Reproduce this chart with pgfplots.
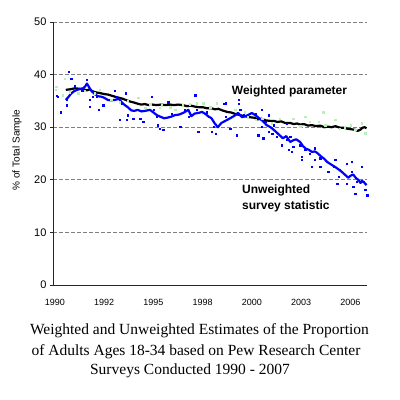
\documentclass[border=0pt]{standalone}
\usepackage{pgfplots}
\pgfplotsset{compat=1.18}
\usepackage{fontspec}
\setmainfont{Liberation Serif}
\newfontfamily\arial{Liberation Sans}
\definecolor{dotgreen}{RGB}{185,240,185}
\definecolor{gridgray}{RGB}{128,128,128}
\definecolor{lineblue}{RGB}{0,0,255}
\begin{document}
\begin{tikzpicture}[x=1pt,y=1pt]
\path (0,0) rectangle (400,400);
\begin{axis}[at={(53pt,115pt)}, anchor=south west, scale only axis,
  width=314pt, height=263pt,
  xmin=-0.04, xmax=6.34, ymin=0, ymax=50,
  axis x line=bottom, axis y line=left,
  axis line style={-, black!85, line width=0.8pt},
  xtick={0,...,6}, xticklabels={1990,1992,1995,1998,2000,2003,2006},
  x tick style={draw=none},
  ytick={0,10,...,50},
  tick align=outside, major tick length=3pt,
  y tick style={black!85, line width=0.8pt},
  ymajorgrids, grid style={gridgray, dash pattern=on 3.5pt off 2.5pt, line width=0.8pt},
  /pgf/number format/assume math mode=true,
  yticklabel style={font=\arial\fontsize{11}{13}\selectfont},
  xticklabel style={font=\arial\fontsize{9}{11}\selectfont, yshift=-8pt},
  clip=false,
]
% weighted individual surveys (light green)
\addplot[only marks, mark=square*, mark size=0.65pt, color=dotgreen, fill=dotgreen, mark options={line width=0.2pt}] coordinates {
(0.02,37.7)(0.01,37.1)(0.16,36.1)(0.20,39.3)(0.30,36.7)(0.47,36.5)(0.60,36.9)(0.81,36.5)
(0.91,37.1)(1.14,35.2)(1.32,34.8)(1.48,35.0)(1.69,35.6)(1.83,33.7)(1.93,34.4)(2.13,33.7)
(2.17,34.2)(2.34,33.8)(2.44,33.3)(2.60,34.2)(2.74,34.4)(2.88,34.6)(3.01,34.6)(3.15,33.8)
(3.29,34.6)(3.46,34.6)(3.66,33.3)(3.86,32.9)(3.92,31.9)(4.07,31.4)(4.21,31.6)(4.40,30.8)
(4.57,31.6)(4.84,31.7)(4.98,30.2)(5.08,32.0)(5.18,31.0)(5.35,31.0)(5.45,32.9)(5.49,30.4)
(5.69,31.4)(5.79,29.8)(5.89,30.0)(6.00,30.4)(6.10,29.5)(6.23,30.8)(6.30,28.9)
};
% unweighted individual surveys (blue)
\addplot[only marks, mark=square*, mark size=0.65pt, color=lineblue, fill=lineblue, mark options={line width=0.2pt}] coordinates {
(0.28,40.6)(0.33,39.3)(0.03,36.0)(0.06,35.8)(0.11,32.9)(0.23,34.2)(0.24,35.2)(0.64,39.0)
(0.71,35.2)(0.76,35.8)(0.71,33.9)(0.84,35.8)(0.89,33.3)(0.98,34.2)(1.21,36.9)(1.25,35.8)
(1.35,34.5)(1.32,31.4)(1.48,32.3)(1.46,31.4)(1.44,36.5)(1.59,31.7)(1.73,31.7)(1.79,31.0)
(1.97,35.8)(2.00,33.3)(2.07,32.0)(2.09,30.4)(2.13,29.8)(2.20,29.5)(2.30,34.8)(2.37,32.6)
(2.54,30.1)(2.64,33.3)(2.71,32.0)(2.85,36.1)(2.88,33.3)(2.91,29.1)(3.08,32.9)(3.12,32.0)
(3.22,31.0)(3.18,29.1)(3.22,30.1)(3.26,28.8)(3.42,34.5)(3.46,32.0)(3.46,34.6)(3.56,29.8)
(3.69,28.5)(3.73,35.2)(3.73,34.5)(3.76,33.3)(3.83,32.3)(4.07,32.6)(4.13,28.5)(4.20,30.1)
(4.20,33.3)(4.23,27.9)(4.27,31.0)(4.34,29.1)(4.34,32.3)(4.41,28.8)(4.44,30.4)(4.51,28.2)
(4.61,26.6)(4.71,30.7)(4.71,27.6)(4.78,28.2)(4.74,25.7)(4.84,26.3)(4.81,25.3)(4.98,26.6)
(5.01,23.8)(5.01,24.4)(5.08,25.7)(5.18,25.0)(5.28,26.0)(5.28,23.8)(5.22,22.5)(5.39,24.1)
(5.39,22.5)(5.55,21.5)(5.69,23.8)(5.66,22.5)(5.79,21.9)(5.76,20.6)(5.73,19.3)(5.93,23.1)
(6.03,23.4)(6.03,21.5)(6.23,22.5)(5.93,19.3)(6.06,18.7)(6.13,19.6)(6.10,17.4)(6.27,19.6)
(6.30,18.1)(6.34,17.1)(0.40,37.8)(0.55,37.0)
};
% weighted parameter (black)
\addplot[no marks, black, line width=2.2pt, line join=round] coordinates {
(0.22,37.1)(0.30,37.2)(0.41,37.4)(0.50,37.3)(0.58,37.2)(0.65,37.0)(0.70,37.2)(0.77,36.8)
(0.84,36.6)(0.91,36.5)(1.00,36.3)(1.08,36.2)(1.15,36.0)(1.22,35.8)(1.30,35.6)(1.38,35.4)
(1.46,35.1)(1.52,34.9)(1.60,34.7)(1.67,34.5)(1.75,34.3)(1.83,34.4)(1.90,34.2)(1.98,34.3)
(2.07,34.2)(2.15,34.3)(2.25,34.2)(2.34,34.3)(2.42,34.2)(2.50,34.3)(2.60,34.2)(2.68,34.0)
(2.76,34.1)(2.85,33.9)(2.93,33.8)(3.00,33.8)(3.09,33.6)(3.18,33.6)(3.25,33.4)(3.32,33.5)
(3.40,33.2)(3.50,32.9)(3.58,32.8)(3.67,32.5)(3.76,32.3)(3.85,32.1)(3.96,31.9)(4.05,31.8)
(4.12,31.5)(4.20,31.6)(4.28,31.3)(4.37,31.2)(4.45,31.2)(4.52,31.0)(4.60,31.1)(4.68,30.8)
(4.78,30.8)(4.85,30.6)(4.92,30.7)(4.98,30.5)(5.06,30.6)(5.14,30.3)(5.22,30.4)(5.30,30.2)
(5.39,30.3)(5.47,30.0)(5.55,30.1)(5.62,30.0)(5.70,30.2)(5.79,29.9)(5.87,29.9)(5.95,29.7)
(6.03,29.6)(6.10,29.5)(6.15,29.3)(6.20,29.5)(6.25,29.9)(6.29,30.0)(6.33,29.8)
};
% unweighted survey statistic (blue)
\addplot[no marks, lineblue, line width=2.2pt, line join=round] coordinates {
(0.22,35.2)(0.27,35.7)(0.32,36.3)(0.38,36.8)(0.45,37.1)(0.52,37.3)(0.57,37.4)(0.61,37.7)
(0.65,38.3)(0.70,37.5)(0.75,36.8)(0.81,36.3)(0.87,35.9)(0.94,35.8)(1.00,35.6)(1.07,35.2)
(1.14,35.1)(1.22,35.2)(1.30,35.4)(1.36,34.7)(1.42,34.2)(1.48,33.8)(1.55,33.2)(1.61,33.1)
(1.68,33.3)(1.76,33.0)(1.83,33.1)(1.93,33.3)(2.00,32.8)(2.07,32.3)(2.14,32.0)(2.22,31.7)
(2.28,31.8)(2.36,32.0)(2.44,32.3)(2.52,32.4)(2.60,32.7)(2.66,33.0)(2.71,33.3)(2.77,32.1)
(2.84,32.6)(2.91,32.7)(2.99,32.9)(3.06,32.5)(3.11,32.1)(3.18,31.7)(3.24,30.8)(3.31,30.0)
(3.38,30.8)(3.42,31.0)(3.50,31.4)(3.56,31.7)(3.65,32.2)(3.72,32.7)(3.80,31.9)(3.87,32.1)
(3.92,32.3)(4.00,32.7)(4.07,32.3)(4.15,31.7)(4.22,31.2)(4.30,30.4)(4.38,30.0)(4.47,29.3)
(4.55,28.6)(4.63,27.9)(4.70,28.3)(4.78,27.2)(4.84,27.5)(4.90,27.7)(4.98,27.2)(5.04,26.4)
(5.10,25.9)(5.16,25.7)(5.22,25.3)(5.28,25.4)(5.33,25.1)(5.40,24.5)(5.47,24.0)(5.53,23.4)
(5.58,23.1)(5.63,22.8)(5.70,22.4)(5.76,22.0)(5.83,21.5)(5.90,20.9)(5.96,20.4)(6.01,20.8)
(6.06,21.0)(6.11,20.4)(6.16,20.0)(6.21,19.4)(6.24,19.8)(6.28,19.5)(6.33,19.0)
};
\end{axis}
% series labels
\node[anchor=base, font=\arial\bfseries\fontsize{12}{14}\selectfont, inner sep=0pt] at (289.5,305) {Weighted parameter};
\node[anchor=base west, font=\arial\bfseries\fontsize{12}{14}\selectfont, inner sep=0pt] at (242,206) {Unweighted};
\node[anchor=base west, font=\arial\bfseries\fontsize{12}{14}\selectfont, inner sep=0pt] at (242,190.7) {survey statistic};
% y axis label
\node[rotate=90, font=\arial\fontsize{10}{12}\selectfont, inner sep=0pt] at (17,250) {\% of Total Sample};
% caption
\node[anchor=base, font=\fontsize{15.5}{18}\selectfont, inner sep=0pt] at (199.5,65) {Weighted and Unweighted Estimates of the Proportion};
\node[anchor=base, font=\fontsize{15.5}{18}\selectfont, inner sep=0pt] at (196,45) {of Adults Ages 18-34 based on Pew Research Center};
\node[anchor=base, font=\fontsize{15.5}{18}\selectfont, inner sep=0pt] at (190,25) {Surveys Conducted 1990 - 2007};
\end{tikzpicture}
\end{document}
